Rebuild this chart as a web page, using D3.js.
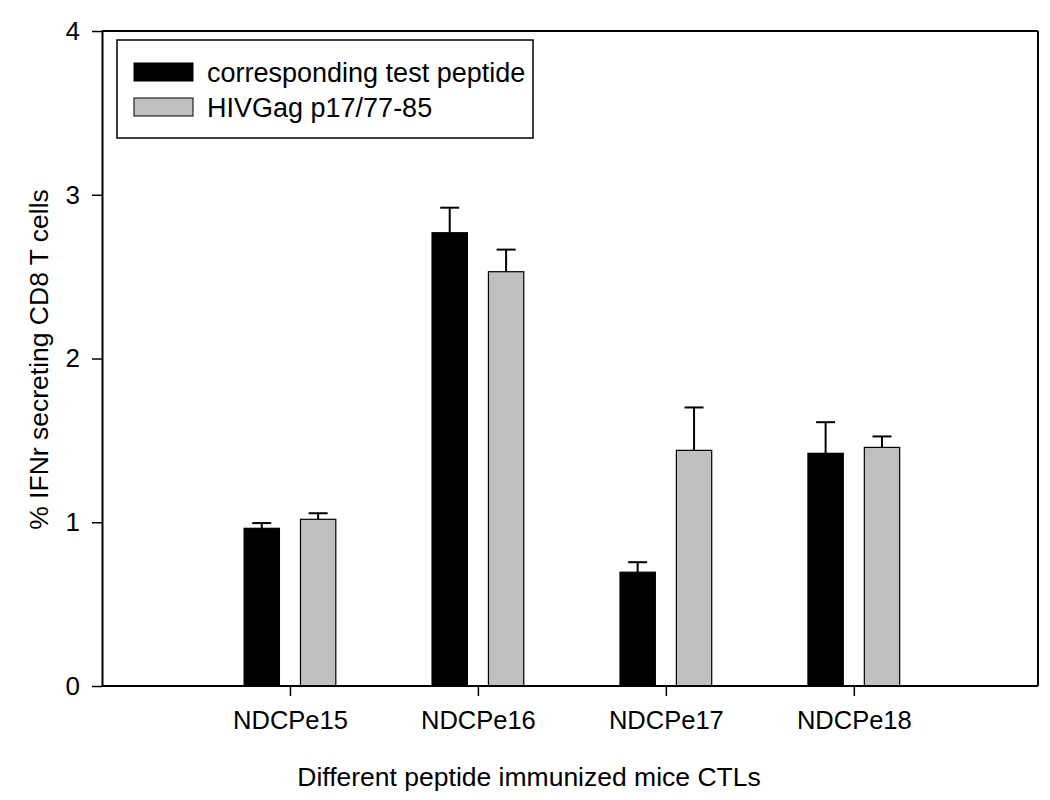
<!DOCTYPE html>
<html>
<head>
<meta charset="utf-8">
<script src="https://cdn.jsdelivr.net/npm/d3@7"></script>
<style>
html,body{margin:0;padding:0;background:#fff;}
text{font-family:Arial,"Liberation Sans",sans-serif;fill:#000;}
</style>
</head>
<body>
<svg id="chart" width="1050" height="800"></svg>
<script>
const categories = ["NDCPe15","NDCPe16","NDCPe17","NDCPe18"];
const seriesNames = ["corresponding test peptide","HIVGag p17/77-85"];
const testValues = [0.963, 2.768, 0.695, 1.421];
const testErrors = [0.032, 0.153, 0.061, 0.190];
const hivValues = [1.018, 2.530, 1.439, 1.457];
const hivErrors = [0.037, 0.135, 0.262, 0.067];
const yTicks = [0,1,2,3,4];
const seriesColors = ["#000000","#c0c0c0"];

const svg = d3.select("#chart");
const mLeft = 102, mRight = 1038, mTop = 31, mBottom = 686;
const x = d3.scaleLinear().domain([0, 4.98]).range([mLeft, mRight]);
const y = d3.scaleLinear().domain([0, 4]).range([mBottom, mTop]);
const unit = x(1) - x(0);
const barW = 0.188 * unit;
const offs = [-0.15 * unit, 0.15 * unit];

const series = [
  {name: seriesNames[0], values: testValues, errors: testErrors, color: seriesColors[0]},
  {name: seriesNames[1], values: hivValues, errors: hivErrors, color: seriesColors[1]}
];

// frame
svg.append("line").attr("x1", mLeft).attr("x2", mRight).attr("y1", mTop).attr("y2", mTop).attr("stroke","#000").attr("stroke-width",2);
svg.append("line").attr("x1", mRight).attr("x2", mRight).attr("y1", mTop).attr("y2", mBottom).attr("stroke","#000").attr("stroke-width",2);

// bars + errors
series.forEach((s, si) => {
  const g = svg.append("g");
  categories.forEach((c, i) => {
    const cx = x(i + 1) + offs[si];
    g.append("line")
      .attr("x1", cx).attr("x2", cx)
      .attr("y1", y(s.values[i])).attr("y2", y(s.values[i] + s.errors[i]))
      .attr("stroke", "#000").attr("stroke-width", 2);
    g.append("line")
      .attr("x1", cx - 9.5).attr("x2", cx + 9.5)
      .attr("y1", y(s.values[i] + s.errors[i])).attr("y2", y(s.values[i] + s.errors[i]))
      .attr("stroke", "#000").attr("stroke-width", 2);
    g.append("rect")
      .attr("x", cx - barW / 2).attr("width", barW)
      .attr("y", y(s.values[i])).attr("height", y(0) - y(s.values[i]))
      .attr("fill", s.color).attr("stroke", "#000").attr("stroke-width", 1.2);
  });
});

// y axis
const yAxis = svg.append("g").attr("transform", `translate(${mLeft},0)`)
  .call(d3.axisLeft(y).tickValues(yTicks).tickFormat(d3.format("d")).tickSize(10).tickSizeOuter(0).tickPadding(12));
yAxis.select(".domain").attr("stroke-width", 2);
yAxis.selectAll(".tick line").attr("stroke-width", 1.5);
yAxis.selectAll("text").style("font-size", "26px");

// x axis
const xAxis = svg.append("g").attr("transform", `translate(0,${mBottom})`)
  .call(d3.axisBottom(x).tickValues([1,2,3,4]).tickFormat((d) => categories[d - 1]).tickSize(10).tickSizeOuter(0).tickPadding(15));
xAxis.select(".domain").attr("stroke-width", 2).attr("d", `M${mLeft},0H${mRight}`);
xAxis.selectAll(".tick line").attr("stroke-width", 1.5);
xAxis.selectAll("text").style("font-size", "25.5px");

// axis titles
svg.append("text").attr("x", 529).attr("y", 786).attr("text-anchor", "middle")
  .style("font-size", "26.5px").text("Different peptide immunized mice CTLs");
svg.append("text").attr("transform", `translate(48,${(mTop + mBottom) / 2 + 1}) rotate(-90)`)
  .attr("text-anchor", "middle").style("font-size", "26.5px").text("% IFNr secreting CD8 T cells");

// legend
const lg = svg.append("g");
lg.append("rect").attr("x", 117).attr("y", 40).attr("width", 416).attr("height", 98)
  .attr("fill", "#fff").attr("stroke", "#000").attr("stroke-width", 1.5);
series.forEach((s, si) => {
  const yy = 63 + si * 35;
  lg.append("rect").attr("x", 134).attr("y", yy).attr("width", 59).attr("height", 18)
    .attr("fill", s.color).attr("stroke", "#000").attr("stroke-width", 1);
  lg.append("text").attr("x", 207).attr("y", yy + 19).style("font-size", "27px").text(s.name);
});
</script>
</body>
</html>
